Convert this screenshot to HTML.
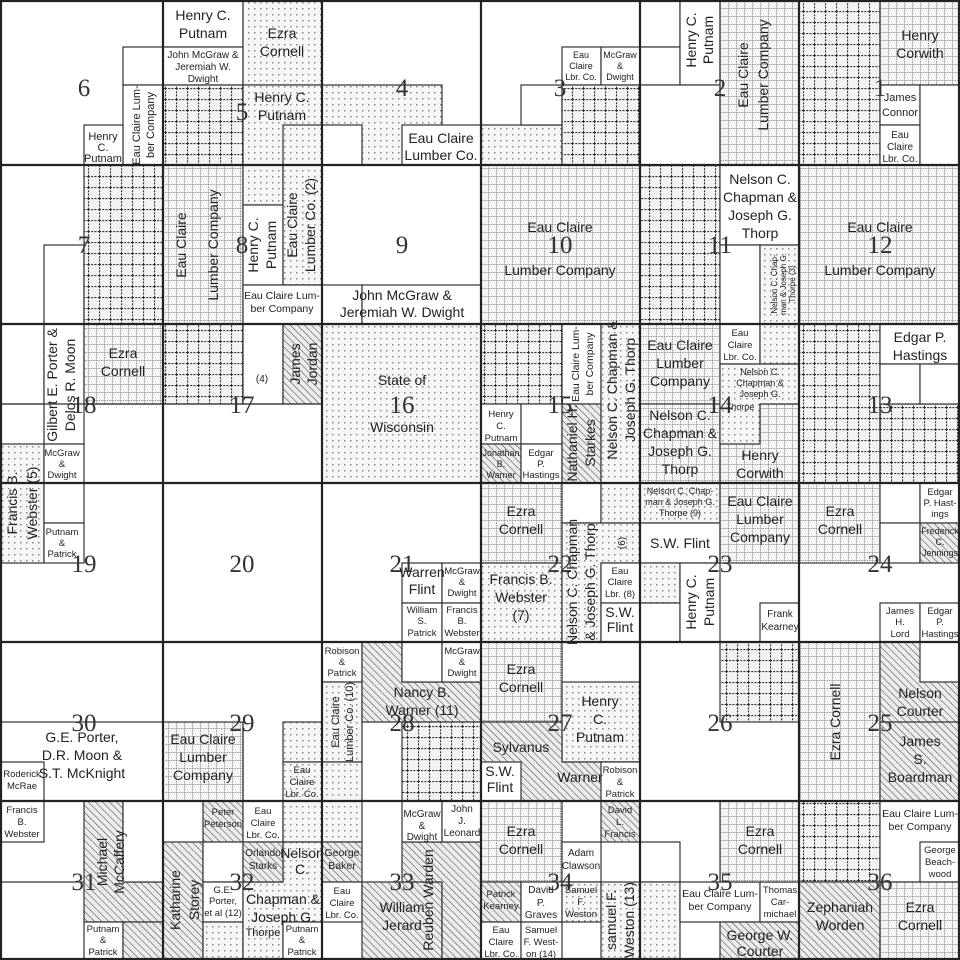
<!DOCTYPE html>
<html><head><meta charset="utf-8"><style>
html,body{margin:0;padding:0;background:#fff}
svg{display:block}
text{font-family:"Liberation Sans",sans-serif;fill:#222}
.n text{font-family:"Liberation Serif",serif;font-size:25px;fill:#333;text-anchor:middle}
.l{font-size:14px;text-anchor:middle}
.m{font-size:11px;text-anchor:middle}
</style></head><body>
<svg width="960" height="960" viewBox="0 0 960 960" xmlns="http://www.w3.org/2000/svg">
<defs>
<pattern id="d" width="6" height="6" patternUnits="userSpaceOnUse"><rect width="6" height="6" fill="#f6f6f6"/><rect x="2" y="2" width="1.5" height="1.5" fill="#8a8a8a"/></pattern>
<pattern id="f" width="8" height="8" patternUnits="userSpaceOnUse"><rect width="8" height="8" fill="#f5f5f5"/><path d="M0 0.5H8M0.5 0V8" stroke="#999" stroke-width="1" stroke-dasharray="1.5 1"/></pattern>
<pattern id="g" width="11" height="11" patternUnits="userSpaceOnUse"><rect width="11" height="11" fill="#f3f3f3"/><path d="M0 0.5H11M0.5 0V11" stroke="#333" stroke-width="1.2" stroke-dasharray="2 1.2"/></pattern>
<pattern id="h" width="5" height="5" patternUnits="userSpaceOnUse" patternTransform="rotate(-45)"><rect width="5" height="5" fill="#ececec"/><path d="M0 0V5" stroke="#555" stroke-width="1.2"/></pattern>
</defs>
<rect width="960" height="960" fill="#fff"/>
<g stroke="#333" stroke-width="1.2">
<rect x="123" y="47" width="40" height="38" fill="#fff"/>
<rect x="123" y="85" width="40" height="80" fill="#fff"/>
<rect x="84" y="125" width="39" height="40" fill="#fff"/>
<rect x="163" y="0" width="80" height="47" fill="#fff"/>
<rect x="163" y="47" width="80" height="38" fill="#fff"/>
<rect x="243" y="0" width="79" height="85" fill="url(#d)"/>
<rect x="163" y="85" width="80" height="80" fill="url(#g)"/>
<rect x="243" y="85" width="79" height="80" fill="url(#d)"/>
<rect x="283" y="125" width="39" height="160" fill="url(#d)"/>
<rect x="322" y="85" width="120" height="80" fill="url(#d)"/>
<rect x="322" y="125" width="40" height="40" fill="#fff"/>
<rect x="402" y="125" width="79" height="40" fill="#fff"/>
<rect x="481" y="125" width="81" height="40" fill="url(#d)"/>
<rect x="521" y="85" width="41" height="40" fill="#fff"/>
<rect x="562" y="47" width="39" height="38" fill="#fff"/>
<rect x="601" y="47" width="39" height="38" fill="#fff"/>
<rect x="562" y="85" width="78" height="80" fill="url(#g)"/>
<rect x="640" y="0" width="40" height="47" fill="#fff"/>
<rect x="640" y="47" width="40" height="38" fill="#fff"/>
<rect x="680" y="0" width="40" height="85" fill="#fff"/>
<rect x="640" y="85" width="80" height="80" fill="#fff"/>
<rect x="720" y="0" width="79" height="165" fill="url(#f)"/>
<rect x="799" y="0" width="81" height="165" fill="url(#g)"/>
<rect x="880" y="0" width="80" height="85" fill="url(#f)"/>
<rect x="880" y="85" width="40" height="40" fill="#fff"/>
<rect x="880" y="125" width="40" height="40" fill="#fff"/>
<rect x="920" y="85" width="40" height="80" fill="#fff"/>
<rect x="44" y="245" width="40" height="79" fill="#fff"/>
<rect x="84" y="165" width="79" height="159" fill="url(#g)"/>
<rect x="163" y="165" width="80" height="159" fill="url(#f)"/>
<rect x="243" y="165" width="40" height="40" fill="url(#d)"/>
<rect x="243" y="205" width="40" height="80" fill="#fff"/>
<rect x="283" y="165" width="39" height="120" fill="url(#d)"/>
<rect x="243" y="285" width="79" height="39" fill="#fff"/>
<rect x="322" y="285" width="40" height="39" fill="#fff"/>
<rect x="362" y="285" width="119" height="39" fill="#fff"/>
<rect x="481" y="165" width="159" height="159" fill="url(#f)"/>
<rect x="640" y="165" width="80" height="159" fill="url(#g)"/>
<rect x="720" y="165" width="79" height="80" fill="#fff"/>
<rect x="720" y="245" width="40" height="79" fill="#fff"/>
<rect x="760" y="245" width="39" height="79" fill="url(#d)"/>
<rect x="799" y="165" width="161" height="159" fill="url(#f)"/>
<rect x="0" y="324" width="44" height="80" fill="#fff"/>
<rect x="44" y="324" width="40" height="120" fill="#fff"/>
<rect x="84" y="324" width="79" height="80" fill="url(#f)"/>
<rect x="0" y="444" width="44" height="119" fill="url(#d)"/>
<rect x="44" y="444" width="40" height="39" fill="#fff"/>
<rect x="44" y="483" width="40" height="40" fill="#fff"/>
<rect x="44" y="523" width="40" height="40" fill="#fff"/>
<rect x="163" y="324" width="80" height="80" fill="url(#g)"/>
<rect x="243" y="324" width="40" height="80" fill="#fff"/>
<rect x="283" y="324" width="39" height="80" fill="url(#h)"/>
<rect x="322" y="324" width="159" height="159" fill="url(#d)"/>
<rect x="481" y="324" width="81" height="80" fill="url(#g)"/>
<rect x="481" y="404" width="40" height="40" fill="#fff"/>
<rect x="521" y="404" width="41" height="40" fill="#fff"/>
<rect x="481" y="444" width="40" height="39" fill="url(#h)"/>
<rect x="521" y="444" width="41" height="39" fill="#fff"/>
<rect x="562" y="324" width="39" height="80" fill="#fff"/>
<rect x="562" y="404" width="39" height="79" fill="url(#h)"/>
<rect x="601" y="324" width="39" height="159" fill="url(#d)"/>
<rect x="640" y="324" width="80" height="80" fill="url(#f)"/>
<rect x="640" y="404" width="80" height="79" fill="url(#f)"/>
<rect x="720" y="404" width="79" height="79" fill="url(#f)"/>
<rect x="720" y="324" width="40" height="40" fill="#fff"/>
<rect x="760" y="324" width="39" height="40" fill="url(#d)"/>
<path d="M720 364H799V404H760V444H720Z" fill="url(#d)"/>
<rect x="799" y="324" width="81" height="159" fill="url(#g)"/>
<rect x="880" y="404" width="80" height="79" fill="url(#g)"/>
<rect x="880" y="324" width="80" height="40" fill="#fff"/>
<rect x="880" y="364" width="40" height="40" fill="#fff"/>
<rect x="920" y="364" width="40" height="40" fill="#fff"/>
<rect x="402" y="563" width="40" height="40" fill="#fff"/>
<rect x="442" y="563" width="39" height="40" fill="#fff"/>
<rect x="402" y="603" width="40" height="39" fill="#fff"/>
<rect x="442" y="603" width="39" height="39" fill="#fff"/>
<rect x="481" y="483" width="81" height="80" fill="url(#f)"/>
<rect x="481" y="563" width="81" height="79" fill="url(#d)"/>
<rect x="562" y="483" width="39" height="40" fill="#fff"/>
<rect x="601" y="483" width="39" height="40" fill="url(#d)"/>
<path d="M562 523H640V563H601V642H562Z" fill="url(#d)"/>
<rect x="601" y="563" width="39" height="40" fill="#fff"/>
<rect x="601" y="603" width="39" height="39" fill="#fff"/>
<rect x="640" y="483" width="80" height="40" fill="url(#d)"/>
<rect x="640" y="523" width="80" height="40" fill="#fff"/>
<rect x="720" y="483" width="79" height="80" fill="url(#f)"/>
<rect x="640" y="563" width="40" height="40" fill="url(#d)"/>
<rect x="640" y="603" width="40" height="39" fill="#fff"/>
<rect x="680" y="563" width="40" height="79" fill="#fff"/>
<rect x="760" y="603" width="39" height="39" fill="#fff"/>
<rect x="799" y="483" width="81" height="80" fill="url(#f)"/>
<rect x="880" y="483" width="40" height="40" fill="#fff"/>
<rect x="920" y="483" width="40" height="40" fill="#fff"/>
<rect x="880" y="523" width="40" height="40" fill="#fff"/>
<rect x="920" y="523" width="40" height="40" fill="url(#h)"/>
<rect x="880" y="603" width="40" height="39" fill="#fff"/>
<rect x="920" y="603" width="40" height="39" fill="#fff"/>
<rect x="0" y="722" width="163" height="79" fill="#fff"/>
<rect x="0" y="762" width="44" height="39" fill="#fff"/>
<rect x="163" y="722" width="80" height="79" fill="url(#f)"/>
<rect x="283" y="722" width="39" height="40" fill="url(#d)"/>
<rect x="283" y="762" width="39" height="39" fill="url(#d)"/>
<rect x="322" y="642" width="40" height="40" fill="#fff"/>
<rect x="322" y="682" width="40" height="80" fill="url(#d)"/>
<rect x="322" y="762" width="40" height="39" fill="url(#d)"/>
<path d="M362 642H402V682H481V722H362Z" fill="url(#h)"/>
<rect x="402" y="642" width="40" height="40" fill="#fff"/>
<rect x="442" y="642" width="39" height="40" fill="#fff"/>
<rect x="402" y="722" width="79" height="79" fill="url(#g)"/>
<rect x="481" y="642" width="81" height="80" fill="url(#f)"/>
<rect x="562" y="682" width="78" height="80" fill="url(#d)"/>
<path d="M481 722H562V762H640V801H481Z" fill="url(#h)"/>
<rect x="481" y="762" width="40" height="39" fill="#fff"/>
<rect x="601" y="762" width="39" height="39" fill="#fff"/>
<rect x="720" y="642" width="79" height="80" fill="url(#g)"/>
<rect x="799" y="642" width="81" height="159" fill="url(#f)"/>
<rect x="880" y="642" width="80" height="159" fill="url(#h)"/>
<rect x="920" y="642" width="40" height="40" fill="#fff"/>
<rect x="0" y="801" width="44" height="41" fill="#fff"/>
<path d="M84 801H123V882H163V922H84Z" fill="url(#h)"/>
<rect x="123" y="801" width="40" height="81" fill="#fff"/>
<rect x="84" y="922" width="39" height="38" fill="#fff"/>
<rect x="123" y="922" width="40" height="38" fill="url(#h)"/>
<rect x="203" y="801" width="40" height="41" fill="url(#h)"/>
<rect x="163" y="842" width="40" height="118" fill="url(#h)"/>
<rect x="203" y="842" width="40" height="40" fill="#fff"/>
<rect x="203" y="882" width="40" height="40" fill="#fff"/>
<rect x="203" y="922" width="40" height="38" fill="url(#d)"/>
<rect x="243" y="801" width="40" height="41" fill="#fff"/>
<rect x="283" y="801" width="39" height="41" fill="url(#d)"/>
<path d="M283 842H322V922H283V960H243V882H283Z" fill="url(#d)"/>
<rect x="243" y="842" width="40" height="40" fill="url(#h)"/>
<rect x="283" y="922" width="39" height="38" fill="#fff"/>
<rect x="322" y="801" width="40" height="41" fill="url(#d)"/>
<rect x="322" y="842" width="40" height="40" fill="url(#h)"/>
<rect x="322" y="882" width="40" height="40" fill="#fff"/>
<rect x="362" y="882" width="80" height="78" fill="url(#h)"/>
<path d="M402 842H481V960H442V882H402Z" fill="url(#h)"/>
<rect x="402" y="801" width="40" height="41" fill="#fff"/>
<rect x="442" y="801" width="39" height="41" fill="#fff"/>
<rect x="481" y="801" width="81" height="81" fill="url(#f)"/>
<rect x="562" y="842" width="39" height="40" fill="#fff"/>
<rect x="601" y="801" width="39" height="41" fill="url(#h)"/>
<rect x="481" y="882" width="40" height="40" fill="url(#h)"/>
<rect x="521" y="882" width="41" height="40" fill="#fff"/>
<rect x="562" y="882" width="39" height="40" fill="url(#d)"/>
<rect x="481" y="922" width="40" height="38" fill="#fff"/>
<rect x="521" y="922" width="41" height="38" fill="#fff"/>
<rect x="601" y="882" width="39" height="78" fill="url(#d)"/>
<rect x="640" y="842" width="40" height="40" fill="#fff"/>
<rect x="640" y="882" width="40" height="78" fill="url(#d)"/>
<rect x="680" y="882" width="80" height="40" fill="#fff"/>
<rect x="760" y="882" width="39" height="40" fill="#fff"/>
<rect x="720" y="922" width="79" height="38" fill="url(#h)"/>
<rect x="720" y="801" width="79" height="81" fill="url(#f)"/>
<rect x="799" y="801" width="81" height="81" fill="url(#g)"/>
<rect x="799" y="882" width="81" height="78" fill="url(#h)"/>
<rect x="880" y="801" width="80" height="81" fill="#fff"/>
<rect x="920" y="842" width="40" height="40" fill="#fff"/>
<rect x="880" y="882" width="80" height="78" fill="url(#f)"/>
</g>
<g stroke="#333" stroke-width="1.2" fill="none">
<path d="M0 404H322M243 722V801M0 882H84M880 722H960"/>
</g>
<g stroke="#222" stroke-width="2.2" fill="none">
<path d="M163 0V960M322 0V960M481 0V960M640 0V960M799 0V960M0 165H960M0 324H960M0 483H960M0 642H960M0 801H960"/>
<rect x="1" y="1" width="958" height="958"/>
</g>
<g class="n">
<text x="84" y="96">6</text><text x="242" y="120">5</text><text x="402" y="96">4</text><text x="560" y="96">3</text><text x="720" y="96">2</text><text x="880" y="96">1</text>
<text x="84" y="253">7</text><text x="242" y="253">8</text><text x="402" y="253">9</text><text x="560" y="253">10</text><text x="720" y="253">11</text><text x="880" y="253">12</text>
<text x="84" y="413">18</text><text x="242" y="413">17</text><text x="402" y="413">16</text><text x="560" y="413">15</text><text x="720" y="413">14</text><text x="880" y="413">13</text>
<text x="84" y="572">19</text><text x="242" y="572">20</text><text x="402" y="572">21</text><text x="560" y="572">22</text><text x="720" y="572">23</text><text x="880" y="572">24</text>
<text x="84" y="731">30</text><text x="242" y="731">29</text><text x="402" y="731">28</text><text x="560" y="731">27</text><text x="720" y="731">26</text><text x="880" y="731">25</text>
<text x="84" y="890">31</text><text x="242" y="890">32</text><text x="402" y="890">33</text><text x="560" y="890">34</text><text x="720" y="890">35</text><text x="880" y="890">36</text>
</g>
<g class="l">
<text x="203" y="20">Henry C.</text><text x="203" y="38">Putnam</text>
<text x="282" y="38">Ezra</text><text x="282" y="56">Cornell</text>
<text x="282" y="102">Henry C.</text><text x="282" y="120">Putnam</text>
<text x="441" y="143">Eau Claire</text><text x="441" y="160">Lumber Co.</text>
<text x="920" y="40">Henry</text><text x="920" y="58">Corwith</text>
<text x="560" y="232">Eau Claire</text><text x="560" y="275">Lumber Company</text>
<text x="880" y="232">Eau Claire</text><text x="880" y="275">Lumber Company</text>
<text x="760" y="184">Nelson C.</text><text x="760" y="202">Chapman &amp;</text><text x="760" y="220">Joseph G.</text><text x="760" y="238">Thorp</text>
<text x="402" y="300">John McGraw &amp;</text><text x="402" y="317">Jeremiah W. Dwight</text>
<text x="123" y="358">Ezra</text><text x="123" y="376">Cornell</text>
<text x="402" y="385">State of</text><text x="402" y="432">Wisconsin</text>
<text x="680" y="350">Eau Claire</text><text x="680" y="368">Lumber</text><text x="680" y="386">Company</text>
<text x="680" y="420">Nelson C.</text><text x="680" y="438">Chapman &amp;</text><text x="680" y="456">Joseph G.</text><text x="680" y="474">Thorp</text>
<text x="760" y="460">Henry</text><text x="760" y="478">Corwith</text>
<text x="920" y="342">Edgar P.</text><text x="920" y="360">Hastings</text>
<text x="521" y="516">Ezra</text><text x="521" y="534">Cornell</text>
<text x="521" y="584">Francis B.</text><text x="521" y="602">Webster</text><text x="521" y="620">(7)</text>
<text x="680" y="548">S.W. Flint</text>
<text x="760" y="506">Eau Claire</text><text x="760" y="524">Lumber</text><text x="760" y="542">Company</text>
<text x="840" y="516">Ezra</text><text x="840" y="534">Cornell</text>
<text x="521" y="674">Ezra</text><text x="521" y="692">Cornell</text>
<text x="600" y="706">Henry</text><text x="600" y="724">C.</text><text x="600" y="742">Putnam</text>
<text x="521" y="752">Sylvanus</text><text x="580" y="782">Warner</text>
<text x="422" y="697">Nancy B.</text><text x="422" y="715">Warner (11)</text>
<text x="82" y="742">G.E. Porter,</text><text x="82" y="760">D.R. Moon &amp;</text><text x="82" y="778">S.T. McKnight</text>
<text x="203" y="744">Eau Claire</text><text x="203" y="762">Lumber</text><text x="203" y="780">Company</text>
<text x="920" y="698">Nelson</text><text x="920" y="716">Courter</text>
<text x="920" y="746">James</text><text x="920" y="764">S.</text><text x="920" y="782">Boardman</text>
<text x="521" y="836">Ezra</text><text x="521" y="854">Cornell</text>
<text x="760" y="836">Ezra</text><text x="760" y="854">Cornell</text>
<text x="402" y="912">William</text><text x="402" y="930">Jerard</text>
<text x="760" y="940">George W.</text><text x="760" y="956">Courter</text>
<text x="840" y="912">Zephaniah</text><text x="840" y="930">Worden</text>
<text x="920" y="912">Ezra</text><text x="920" y="930">Cornell</text>
<text x="283" y="904">Chapman &amp;</text><text x="283" y="922">Joseph G.</text>
<text x="500" y="776">S.W.</text><text x="500" y="792">Flint</text>
<text x="620" y="617">S.W.</text><text x="620" y="632">Flint</text>
<text x="302" y="858">Nelson</text><text x="302" y="874">C.</text>
<text x="422" y="577">Warren</text><text x="422" y="594">Flint</text>
</g>
<g class="l">
<text transform="translate(186,245) rotate(-90)">Eau Claire</text><text transform="translate(218,245) rotate(-90)">Lumber Company</text>
<text transform="translate(258,245) rotate(-90)">Henry C.</text><text transform="translate(276,245) rotate(-90)">Putnam</text>
<text transform="translate(297,225) rotate(-90)">Eau Claire</text><text transform="translate(315,225) rotate(-90)">Lumber Co. (2)</text>
<text transform="translate(748,75) rotate(-90)">Eau Claire</text><text transform="translate(768,75) rotate(-90)">Lumber Company</text>
<text transform="translate(696,40) rotate(-90)">Henry C.</text><text transform="translate(713,40) rotate(-90)">Putnam</text>
<text transform="translate(57,385) rotate(-90)">Gilbert E. Porter &amp;</text><text transform="translate(75,385) rotate(-90)">Delos R. Moon</text>
<text transform="translate(577,443) rotate(-90)">Nathaniel H.</text><text transform="translate(595,443) rotate(-90)">Starkes</text>
<text transform="translate(617,390) rotate(-90)">Nelson C. Chapman &amp;</text><text transform="translate(635,390) rotate(-90)">Joseph G. Thorp</text>
<text transform="translate(300,364) rotate(-90)">James</text><text transform="translate(317,364) rotate(-90)">Jordan</text>
<text transform="translate(17,503) rotate(-90)">Francis B.</text><text transform="translate(37,503) rotate(-90)">Webster (5)</text>
<text transform="translate(577,582) rotate(-90)">Nelson C. Chapman</text><text transform="translate(595,582) rotate(-90)">&amp; Joseph G. Thorp</text>
<text transform="translate(696,602) rotate(-90)">Henry C.</text><text transform="translate(714,602) rotate(-90)">Putnam</text>
<text transform="translate(840,722) rotate(-90)">Ezra Cornell</text>
<text transform="translate(107,862) rotate(-90)">Michael</text><text transform="translate(124,862) rotate(-90)">McCaffery</text>
<text transform="translate(180,900) rotate(-90)">Katharine</text><text transform="translate(199,900) rotate(-90)">Storey</text>
<text transform="translate(433,900) rotate(-90)">Reuben Warden</text>
<text transform="translate(616,920) rotate(-90)">samuel F.</text><text transform="translate(634,920) rotate(-90)">Weston (13)</text>
</g>
<g class="m">
<text x="103" y="140">Henry</text><text x="103" y="151">C.</text><text x="103" y="162">Putnam</text>
<text transform="translate(140,125) rotate(-90)">Eau Claire Lum-</text><text transform="translate(154,125) rotate(-90)">ber Company</text>
<text x="203" y="58" style="font-size:10px">John McGraw &amp;</text><text x="203" y="70" style="font-size:10px">Jeremiah W.</text><text x="203" y="82" style="font-size:10px">Dwight</text>
<text x="581" y="58" style="font-size:9px">Eau</text><text x="581" y="69" style="font-size:9px">Claire</text><text x="581" y="80" style="font-size:9px">Lbr. Co.</text>
<text x="620" y="58" style="font-size:9px">McGraw</text><text x="620" y="69" style="font-size:9px">&amp;</text><text x="620" y="80" style="font-size:9px">Dwight</text>
<text x="900" y="101">James</text><text x="900" y="116">Connor</text>
<text x="900" y="138" style="font-size:10px">Eau</text><text x="900" y="150" style="font-size:10px">Claire</text><text x="900" y="162" style="font-size:10px">Lbr. Co.</text>
<text x="282" y="299" style="font-size:10.5px">Eau Claire Lum-</text><text x="282" y="312" style="font-size:10.5px">ber Company</text>
<text transform="translate(777,284) rotate(-90)" style="font-size:8px">Nelson C. Chap-</text><text transform="translate(786,284) rotate(-90)" style="font-size:8px">man &amp; Joseph G.</text><text transform="translate(795,284) rotate(-90)" style="font-size:8px">Thorpe (3)</text>
<text x="262" y="382" style="font-size:10px">(4)</text>
<text transform="translate(579,364) rotate(-90)" style="font-size:10.5px">Eau Claire Lum-</text><text transform="translate(593,364) rotate(-90)" style="font-size:10.5px">ber Company</text>
<text x="501" y="417" style="font-size:9.5px">Henry</text><text x="501" y="429" style="font-size:9.5px">C.</text><text x="501" y="441" style="font-size:9.5px">Putnam</text>
<text x="501" y="456" style="font-size:9px">Jonathan</text><text x="501" y="467" style="font-size:9px">B.</text><text x="501" y="478" style="font-size:9px">Warner</text>
<text x="541" y="456" style="font-size:9.5px">Edgar</text><text x="541" y="467" style="font-size:9.5px">P.</text><text x="541" y="478" style="font-size:9.5px">Hastings</text>
<text x="740" y="336" style="font-size:9.5px">Eau</text><text x="740" y="348" style="font-size:9.5px">Claire</text><text x="740" y="360" style="font-size:9.5px">Lbr. Co.</text>
<text x="760" y="375" style="font-size:9px">Nelson C.</text><text x="760" y="386" style="font-size:9px">Chapman &amp;</text><text x="760" y="397" style="font-size:9px">Joseph G.</text><text x="740" y="410" style="font-size:9px">Thorpe</text>
<text x="62" y="456" style="font-size:9.5px">McGraw</text><text x="62" y="467" style="font-size:9.5px">&amp;</text><text x="62" y="478" style="font-size:9.5px">Dwight</text>
<text x="62" y="535" style="font-size:9.5px">Putnam</text><text x="62" y="546" style="font-size:9.5px">&amp;</text><text x="62" y="557" style="font-size:9.5px">Patrick</text>
<text x="680" y="494" style="font-size:9px">Nelson C. Chap-</text><text x="680" y="505" style="font-size:9px">man &amp; Joseph G.</text><text x="680" y="516" style="font-size:9px">Thorpe (9)</text>
<text transform="translate(625,543) rotate(-90)" style="font-size:10px">(6)</text>
<text x="620" y="574" style="font-size:9.5px">Eau</text><text x="620" y="585" style="font-size:9.5px">Claire</text><text x="620" y="597" style="font-size:9.5px">Lbr. (8)</text>
<text x="462" y="574" style="font-size:9.5px">McGraw</text><text x="462" y="585" style="font-size:9.5px">&amp;</text><text x="462" y="596" style="font-size:9.5px">Dwight</text>
<text x="422" y="613" style="font-size:9.5px">William</text><text x="422" y="624" style="font-size:9.5px">S.</text><text x="422" y="636" style="font-size:9.5px">Patrick</text>
<text x="462" y="613" style="font-size:9.5px">Francis</text><text x="462" y="624" style="font-size:9.5px">B.</text><text x="462" y="636" style="font-size:9.5px">Webster</text>
<text x="462" y="654" style="font-size:9.5px">McGraw</text><text x="462" y="665" style="font-size:9.5px">&amp;</text><text x="462" y="676" style="font-size:9.5px">Dwight</text>
<text x="780" y="617" style="font-size:10px">Frank</text><text x="780" y="630" style="font-size:10px">Kearney</text>
<text x="940" y="495" style="font-size:9.5px">Edgar</text><text x="940" y="506" style="font-size:9.5px">P. Hast-</text><text x="940" y="517" style="font-size:9.5px">ings</text>
<text x="940" y="534" style="font-size:9px">Frederick</text><text x="940" y="545" style="font-size:9px">C.</text><text x="940" y="556" style="font-size:9px">Jennings</text>
<text x="900" y="614" style="font-size:9.5px">James</text><text x="900" y="625" style="font-size:9.5px">H.</text><text x="900" y="637" style="font-size:9.5px">Lord</text>
<text x="940" y="614" style="font-size:9.5px">Edgar</text><text x="940" y="625" style="font-size:9.5px">P.</text><text x="940" y="637" style="font-size:9.5px">Hastings</text>
<text x="342" y="654" style="font-size:9.5px">Robison</text><text x="342" y="665" style="font-size:9.5px">&amp;</text><text x="342" y="676" style="font-size:9.5px">Patrick</text>
<text transform="translate(339,722) rotate(-90)">Eau Claire</text><text transform="translate(353,722) rotate(-90)">Lumber Co. (10)</text>
<text x="22" y="777" style="font-size:9.5px">Roderick</text><text x="22" y="789" style="font-size:9.5px">McRae</text>
<text x="22" y="813" style="font-size:9.5px">Francis</text><text x="22" y="825" style="font-size:9.5px">B.</text><text x="22" y="837" style="font-size:9.5px">Webster</text>
<text x="302" y="773" style="font-size:9.5px">Eau</text><text x="302" y="785" style="font-size:9.5px">Claire</text><text x="302" y="797" style="font-size:9.5px">Lbr. Co.</text>
<text x="620" y="773" style="font-size:9.5px">Robison</text><text x="620" y="785" style="font-size:9.5px">&amp;</text><text x="620" y="797" style="font-size:9.5px">Patrick</text>
<text x="223" y="815" style="font-size:9.5px">Peter</text><text x="223" y="827" style="font-size:9.5px">Peterson</text>
<text x="263" y="814" style="font-size:9.5px">Eau</text><text x="263" y="826" style="font-size:9.5px">Claire</text><text x="263" y="838" style="font-size:9.5px">Lbr. Co.</text>
<text x="263" y="856" style="font-size:10px">Orlando</text><text x="263" y="869" style="font-size:10px">Starks</text>
<text x="223" y="893" style="font-size:9.5px">G.E.</text><text x="223" y="904" style="font-size:9.5px">Porter,</text><text x="223" y="916" style="font-size:9.5px">et al (12)</text>
<text x="263" y="936" style="font-size:11px">Thorpe</text>
<text x="302" y="932" style="font-size:9.5px">Putnam</text><text x="302" y="943" style="font-size:9.5px">&amp;</text><text x="302" y="955" style="font-size:9.5px">Patrick</text>
<text x="103" y="932" style="font-size:9.5px">Putnam</text><text x="103" y="943" style="font-size:9.5px">&amp;</text><text x="103" y="955" style="font-size:9.5px">Patrick</text>
<text x="342" y="856" style="font-size:10.5px">George</text><text x="342" y="869" style="font-size:10.5px">Baker</text>
<text x="342" y="894" style="font-size:9.5px">Eau</text><text x="342" y="906" style="font-size:9.5px">Claire</text><text x="342" y="918" style="font-size:9.5px">Lbr. Co.</text>
<text x="422" y="817" style="font-size:10px">McGraw</text><text x="422" y="829" style="font-size:10px">&amp;</text><text x="422" y="840" style="font-size:10px">Dwight</text>
<text x="462" y="812" style="font-size:10px">John</text><text x="462" y="824" style="font-size:10px">J.</text><text x="462" y="836" style="font-size:10px">Leonard</text>
<text x="581" y="856" style="font-size:10px">Adam</text><text x="581" y="869" style="font-size:10px">Clawson</text>
<text x="620" y="813" style="font-size:9.5px">David</text><text x="620" y="825" style="font-size:9.5px">L.</text><text x="620" y="837" style="font-size:9.5px">Francis</text>
<text x="501" y="897" style="font-size:9.5px">Patrick</text><text x="501" y="909" style="font-size:9.5px">Kearney</text>
<text x="541" y="893" style="font-size:10px">David</text><text x="541" y="906" style="font-size:10px">P.</text><text x="541" y="918" style="font-size:10px">Graves</text>
<text x="581" y="893" style="font-size:9.5px">Samuel</text><text x="581" y="905" style="font-size:9.5px">F.</text><text x="581" y="917" style="font-size:9.5px">Weston</text>
<text x="501" y="933" style="font-size:9.5px">Eau</text><text x="501" y="945" style="font-size:9.5px">Claire</text><text x="501" y="957" style="font-size:9.5px">Lbr. Co.</text>
<text x="541" y="933" style="font-size:9.5px">Samuel</text><text x="541" y="945" style="font-size:9.5px">F. West-</text><text x="541" y="957" style="font-size:9.5px">on (14)</text>
<text x="720" y="897" style="font-size:10.5px">Eau Claire Lum-</text><text x="720" y="910" style="font-size:10.5px">ber Company</text>
<text x="780" y="893" style="font-size:9.5px">Thomas</text><text x="780" y="905" style="font-size:9.5px">Car-</text><text x="780" y="917" style="font-size:9.5px">michael</text>
<text x="920" y="817" style="font-size:10.5px">Eau Claire Lum-</text><text x="920" y="830" style="font-size:10.5px">ber Company</text>
<text x="940" y="853" style="font-size:9.5px">George</text><text x="940" y="865" style="font-size:9.5px">Beach-</text><text x="940" y="877" style="font-size:9.5px">wood</text>
</g>
</svg>
</body></html>
